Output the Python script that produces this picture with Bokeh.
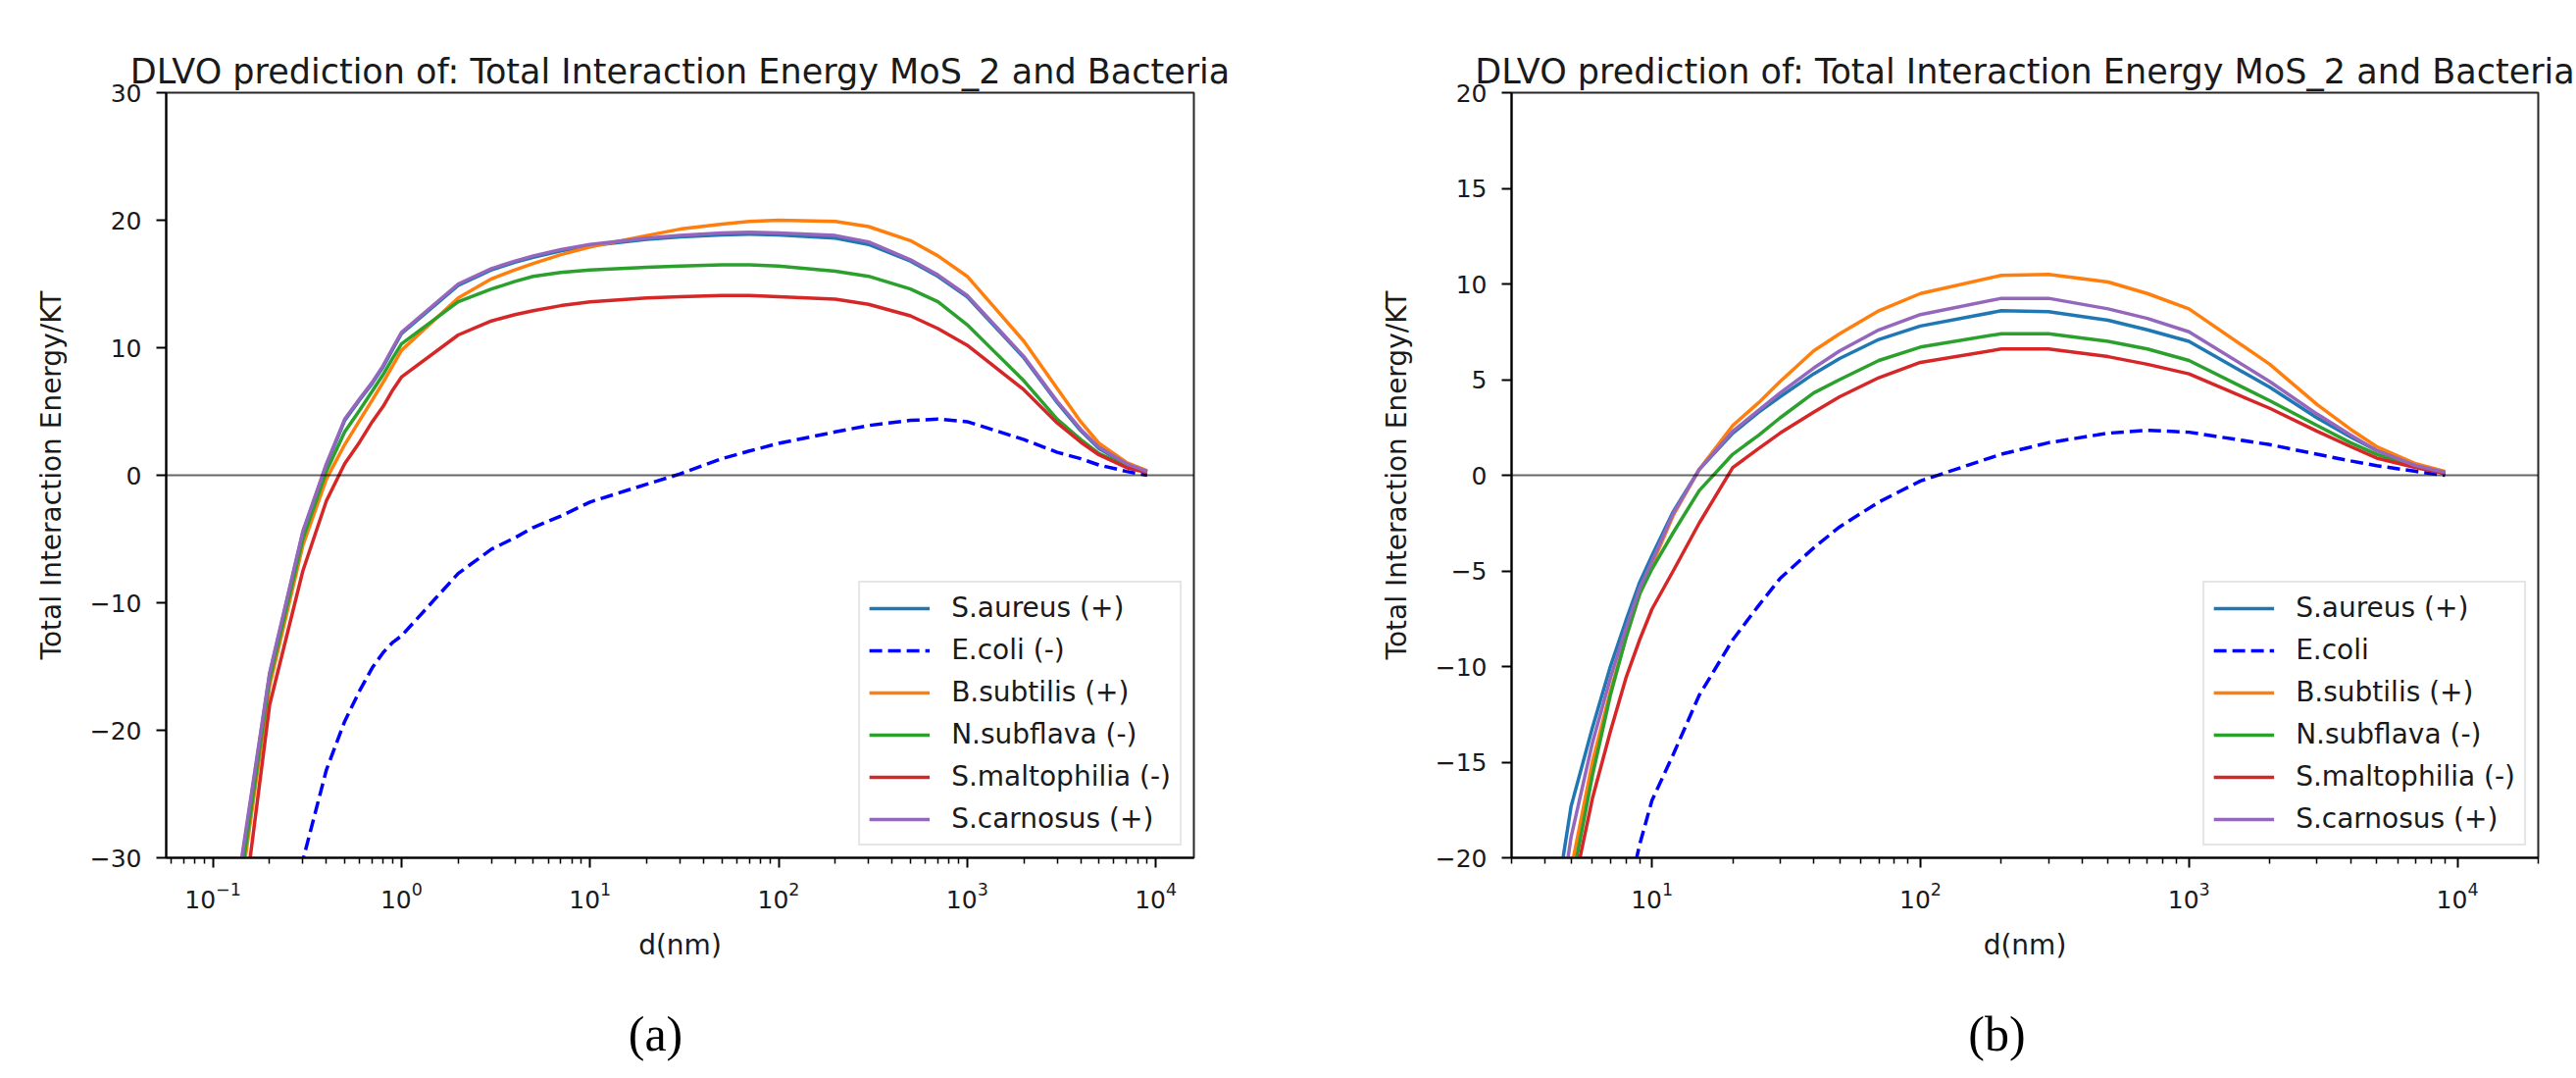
from bokeh.plotting import figure
from bokeh.layouts import row, column
from bokeh.models import (Range1d, FixedTicker, LogTickFormatter, Span, Label,
                          CustomJSTickFormatter)
from bokeh.embed import file_html
from bokeh.resources import INLINE

# ---------------- data: panel (a) ----------------
A_D = [0.1, 0.2, 0.3, 0.4, 0.5, 0.6, 0.7, 0.8, 0.9, 1, 2, 3, 4, 5, 7, 10, 20, 30, 50, 70,
       100, 200, 300, 500, 700, 1000, 2000, 3000, 4000, 5000, 7000, 9000]
A_S_AUREUS = [-45.5, -15.6, -4.5, 0.8, 4.3, 5.9, 7.2, 8.5, 9.9, 11.1, 14.9, 16.1, 16.7, 17.1, 17.6,
              18.0, 18.5, 18.7, 18.85, 18.9, 18.85, 18.6, 18.1, 16.8, 15.6, 14.0, 9.2, 5.7, 3.5,
              2.1, 0.85, 0.25]
A_E_COLI = [-80.0, -45.0, -30.2, -23.1, -19.3, -16.9, -15.1, -13.9, -13.1, -12.6, -7.7, -5.8, -4.9,
            -4.1, -3.2, -2.1, -0.7, 0.1, 1.3, 1.9, 2.5, 3.4, 3.9, 4.3, 4.4, 4.2, 2.8, 1.8, 1.3,
            0.8, 0.3, 0.0]
A_B_SUBTILIS = [-48.0, -16.5, -5.5, -0.3, 2.4, 4.3, 5.9, 7.3, 8.6, 9.8, 13.9, 15.4, 16.1, 16.6,
                17.3, 17.9, 18.8, 19.3, 19.7, 19.9, 20.0, 19.9, 19.5, 18.4, 17.2, 15.6, 10.5,
                6.8, 4.2, 2.5, 1.0, 0.35]
A_N_SUBFLAVA = [-47.0, -16.0, -5.0, 0.3, 3.4, 5.1, 6.6, 7.9, 9.2, 10.3, 13.6, 14.6, 15.2, 15.6,
                15.9, 16.1, 16.3, 16.4, 16.5, 16.5, 16.4, 16.0, 15.6, 14.6, 13.6, 11.8, 7.4,
                4.4, 2.8, 1.7, 0.7, 0.25]
A_S_MALTOPHILIA = [-53.0, -18.0, -7.5, -2.0, 0.9, 2.6, 4.2, 5.4, 6.7, 7.7, 11.0, 12.1, 12.6, 12.9,
                   13.3, 13.6, 13.9, 14.0, 14.1, 14.1, 14.0, 13.8, 13.4, 12.5, 11.5, 10.2, 6.7,
                   4.1, 2.6, 1.6, 0.6, 0.2]
A_S_CARNOSUS = [-45.0, -15.5, -4.4, 0.9, 4.4, 6.0, 7.3, 8.6, 10.0, 11.2, 15.0, 16.2, 16.8, 17.2,
                17.7, 18.1, 18.6, 18.8, 19.0, 19.05, 19.0, 18.8, 18.3, 16.9, 15.7, 14.1, 9.3,
                5.8, 3.6, 2.2, 0.9, 0.3]
A_LABELS = ["S.aureus (+)", "E.coli (-)", "B.subtilis (+)", "N.subflava (-)",
            "S.maltophilia (-)", "S.carnosus (+)"]

# ---------------- data: panel (b) ----------------
B_D = [4, 5, 6, 7, 8, 9, 10, 12, 15, 20, 25, 30, 40, 50, 70, 100, 200, 300, 500, 700, 1000,
       2000, 3000, 4000, 5000, 7000, 9000]
B_S_AUREUS = [-26.0, -17.3, -13.2, -10.0, -7.6, -5.6, -4.2, -1.9, 0.3, 2.2, 3.3, 4.1, 5.3, 6.1,
              7.1, 7.8, 8.6, 8.55, 8.1, 7.6, 7.0, 4.6, 3.0, 2.0, 1.3, 0.5, 0.1]
B_E_COLI = [-50.0, -40.0, -33.0, -27.5, -22.5, -19.3, -17.0, -14.6, -11.5, -8.6, -6.8, -5.4,
            -3.8, -2.7, -1.4, -0.3, 1.1, 1.7, 2.2, 2.35, 2.25, 1.6, 1.1, 0.75, 0.5, 0.2, 0.0]
B_B_SUBTILIS = [-30.0, -20.6, -15.0, -11.3, -8.5, -6.2, -4.7, -2.1, 0.3, 2.6, 3.8, 4.9, 6.5, 7.4,
                8.6, 9.5, 10.45, 10.5, 10.1, 9.5, 8.7, 5.8, 3.7, 2.4, 1.5, 0.6, 0.2]
B_N_SUBFLAVA = [-30.0, -21.5, -15.7, -11.5, -8.5, -6.2, -4.9, -3.0, -0.8, 1.1, 2.1, 3.0, 4.3, 5.0,
                6.0, 6.7, 7.4, 7.4, 7.0, 6.6, 6.0, 3.9, 2.6, 1.7, 1.1, 0.45, 0.1]
B_S_MALTOPHILIA = [-32.0, -22.2, -16.9, -13.4, -10.6, -8.6, -7.0, -5.0, -2.5, 0.4, 1.4, 2.2, 3.3,
                   4.1, 5.1, 5.9, 6.6, 6.6, 6.2, 5.8, 5.3, 3.5, 2.3, 1.5, 0.9, 0.4, 0.1]
B_S_CARNOSUS = [-28.0, -18.9, -14.0, -10.6, -8.0, -5.9, -4.5, -2.0, 0.3, 2.3, 3.4, 4.3, 5.6, 6.5,
                7.6, 8.4, 9.25, 9.25, 8.7, 8.2, 7.5, 4.9, 3.2, 2.1, 1.3, 0.5, 0.15]
B_LABELS = ["S.aureus (+)", "E.coli", "B.subtilis (+)", "N.subflava (-)",
            "S.maltophilia (-)", "S.carnosus (+)"]

# ---------------- ticks ----------------
A_XTICKS = [0.1, 1, 10, 100, 1000, 10000]
B_XTICKS = [10, 100, 1000, 10000]
A_YTICKS = [-30, -20, -10, 0, 10, 20, 30]
B_YTICKS = [-20, -15, -10, -5, 0, 5, 10, 15, 20]
MINOR = [m * 10.0 ** e for e in range(-2, 5) for m in range(2, 10)]

TITLE = "DLVO prediction of: Total Interaction Energy MoS_2 and Bacteria"
COLORS = ["#1f77b4", "#0000ff", "#ff7f0e", "#2ca02c", "#d62728", "#9467bd"]
DASHES = ["solid", "13 6", "solid", "solid", "solid", "solid"]

H_PLOT = 1009
H_CAP = 90
FONT = "DejaVu Sans"


def make_panel(d, series, labels, xr, yr, xticks, yticks, width, bl, br):
    p = figure(width=width, height=H_PLOT, x_axis_type="log",
               x_range=Range1d(*xr), y_range=Range1d(*yr),
               output_backend="svg", toolbar_location=None,
               min_border_left=bl, min_border_right=br,
               min_border_top=94, min_border_bottom=H_PLOT - 874,
               background_fill_color="white", border_fill_color="white")
    p.title.text = TITLE
    p.title.align = "center"
    p.title.text_font = FONT
    p.title.text_font_size = "35px"
    p.title.text_font_style = "normal"
    p.title.text_color = "#1a1a1a"
    p.title.standoff = 4

    p.grid.visible = False
    p.outline_line_color = "black"
    p.outline_line_width = 2
    p.outline_line_alpha = 0.85

    p.add_layout(Span(location=0, dimension="width", line_color="black",
                      line_alpha=0.6, line_width=2))

    for ys, lab, col, dash in zip(series, labels, COLORS, DASHES):
        p.line(d, ys, line_color=col, line_width=3.5, line_dash=dash, legend_label=lab)

    xa = p.xaxis[0]
    xa.ticker = FixedTicker(ticks=xticks, minor_ticks=MINOR)
    xa.formatter = LogTickFormatter()
    ya = p.yaxis[0]
    ya.ticker = FixedTicker(ticks=yticks, minor_ticks=[])
    ya.formatter = CustomJSTickFormatter(
        code="return tick < 0 ? '\\u2212' + Math.abs(tick) : '' + tick;")

    for ax in (xa, ya):
        ax.axis_line_color = "black"
        ax.axis_line_width = 2
        ax.major_tick_line_color = "black"
        ax.major_tick_line_width = 2
        ax.minor_tick_line_color = "black"
        ax.minor_tick_line_width = 1.5
        ax.major_tick_in = 0
        ax.major_tick_out = 10
        ax.minor_tick_in = 0
        ax.minor_tick_out = 6
        ax.major_label_text_font = FONT
        ax.major_label_text_font_size = "25px"
        ax.major_label_text_color = "#1a1a1a"
        ax.axis_label_text_font = FONT
        ax.axis_label_text_font_size = "28px"
        ax.axis_label_text_font_style = "normal"
        ax.axis_label_text_color = "#1a1a1a"
    xa.axis_label = "d(nm)"
    xa.major_label_standoff = 14
    xa.axis_label_standoff = 18
    ya.axis_label = "Total Interaction Energy/KT"
    ya.major_label_standoff = 15
    ya.axis_label_standoff = 20

    lg = p.legend[0]
    lg.location = "bottom_right"
    lg.label_text_font = FONT
    lg.label_text_font_size = "28px"
    lg.label_text_color = "#1a1a1a"
    lg.glyph_width = 62
    lg.glyph_height = 30
    lg.label_height = 30
    lg.label_standoff = 22
    lg.spacing = 10
    lg.padding = 9
    lg.margin = 12
    lg.border_line_color = "#cccccc"
    lg.border_line_width = 2
    lg.background_fill_alpha = 0.85
    return p


def make_caption(text, width, cx):
    c = figure(width=width, height=H_CAP, x_range=Range1d(0, width), y_range=Range1d(0, H_CAP),
               output_backend="svg", toolbar_location=None,
               x_axis_location=None, y_axis_location=None,
               min_border=0, outline_line_color=None,
               background_fill_color="white", border_fill_color="white")
    c.grid.visible = False
    c.add_layout(Label(x=cx, y=46, x_units="screen", y_units="screen", text=text,
                       text_font="Liberation Serif", text_font_size="50px",
                       text_align="center", text_baseline="middle", text_color="black"))
    return c


pa = make_panel(A_D, [A_S_AUREUS, A_E_COLI, A_B_SUBTILIS, A_N_SUBFLAVA, A_S_MALTOPHILIA,
                      A_S_CARNOSUS], A_LABELS, (0.05656, 15922), (-30, 30), A_XTICKS,
                A_YTICKS, 1308, 169, 91)
pb = make_panel(B_D, [B_S_AUREUS, B_E_COLI, B_B_SUBTILIS, B_N_SUBFLAVA, B_S_MALTOPHILIA,
                      B_S_CARNOSUS], B_LABELS, (3, 20000), (-20, 20), B_XTICKS,
                B_YTICKS, 1319, 233, 39)
ca = make_caption("(a)", 1308, 668)
cb = make_caption("(b)", 1319, 728)

layout = column(row(pa, pb), row(ca, cb))
open("out.html", "w").write(file_html(layout, INLINE))
